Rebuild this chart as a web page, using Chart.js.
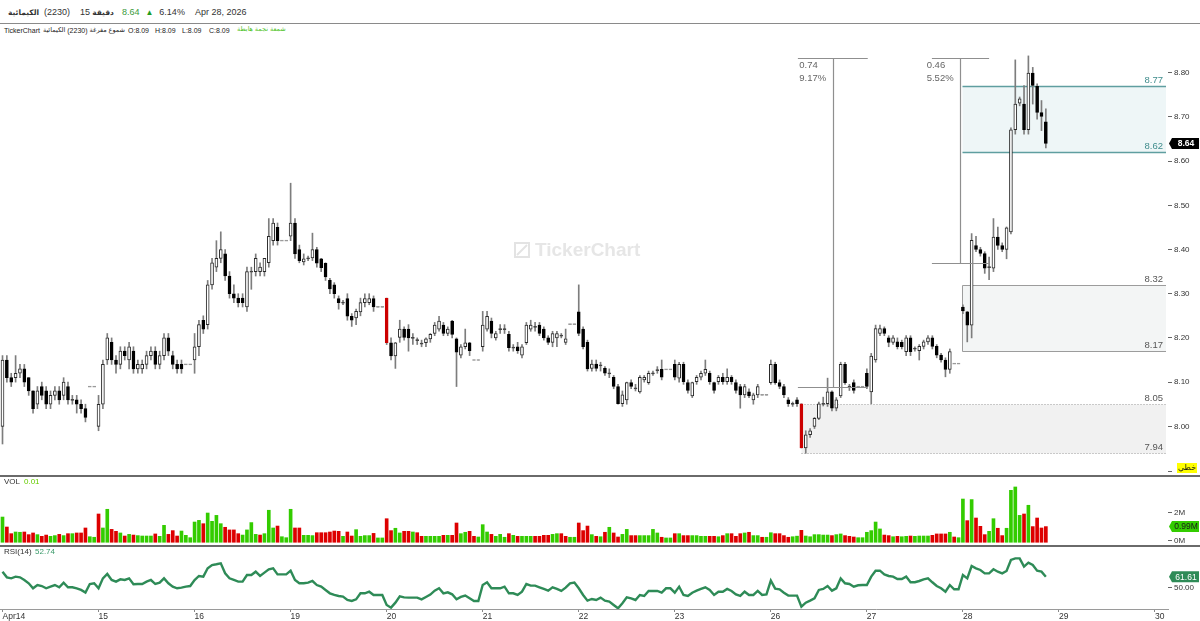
<!DOCTYPE html>
<html><head><meta charset="utf-8">
<script src="https://cdn.jsdelivr.net/npm/chart.js@4.4.1/dist/chart.umd.min.js"></script>
<style>
html,body{margin:0;padding:0;background:#fff}
body{width:1200px;height:621px;overflow:hidden;position:relative;font-family:"Liberation Sans",Arial,"DejaVu Sans",sans-serif;color:#333}
.pane{position:absolute;left:0;width:1200px}
.t{position:absolute;white-space:nowrap;line-height:1}
.row{position:absolute;display:flex;align-items:center;white-space:nowrap;line-height:1}
.row span{display:block}
.sep{position:absolute;left:0;width:1200px;z-index:5}
</style></head><body>
<div class="row" style="left:8px;top:7px;height:11px;font-size:9px">
  <span dir="rtl" style="font-weight:bold;font-size:7.5px">الكيمائية</span>
  <span style="margin-left:5px">(2230)</span>
  <span style="margin-left:10px">15</span>
  <span dir="rtl" style="margin-left:2px;font-weight:bold;font-size:7.5px">دقيقة</span>
  <span style="margin-left:8px;color:#3a9a3a">8.64</span>
  <span style="margin-left:6px;color:#1f9e1f;font-size:8px">▲</span>
  <span style="margin-left:6px">6.14%</span>
  <span style="margin-left:10px">Apr 28, 2026</span>
</div>
<div class="sep" style="top:23px;height:1px;background:#8a8a8a"></div>
<div class="row" style="left:4px;top:26px;height:8px;font-size:7px;color:#222">
  <span>TickerChart</span>
  <span dir="rtl" style="margin-left:3px;font-size:6.5px">الكيمائية</span>
  <span style="margin-left:2px">(2230)</span>
  <span dir="rtl" style="margin-left:2px;font-size:6.5px">شموع مفرغة</span>
</div>
<div class="t" style="left:128px;top:27px;font-size:7px;color:#222">O:8.09</div>
<div class="t" style="left:155px;top:27px;font-size:7px;color:#222">H:8.09</div>
<div class="t" style="left:182px;top:27px;font-size:7px;color:#222">L:8.09</div>
<div class="t" style="left:209px;top:27px;font-size:7px;color:#222">C:8.09</div>
<div class="t" style="left:237px;top:26px;font-size:6.5px;color:#4cc21c" dir="rtl">شمعة نجمة هابطة</div>

<div class="pane" style="top:38px;height:438px"><canvas id="cPrice"></canvas></div>
<div class="sep" style="top:475px;height:2px;background:#6a6a6a"></div>
<div class="pane" style="top:477px;height:69px"><canvas id="cVol"></canvas></div>
<div class="sep" style="top:545px;height:2px;background:#6a6a6a"></div>
<div class="pane" style="top:547px;height:74px"><canvas id="cRsi"></canvas></div>

<div class="t" style="left:4px;top:478px;font-size:8px;color:#333;z-index:6">VOL</div>
<div class="t" style="left:24px;top:478px;font-size:8px;color:#66cc00;z-index:6">0.01</div>
<div class="t" style="left:4px;top:548px;font-size:8px;color:#333;z-index:6">RSI(14)</div>
<div class="t" style="left:35px;top:548px;font-size:8px;color:#3a9a6a;z-index:6">52.74</div>

<script>
// ---------- DATA ----------
const dayLabels = ['Apr14','15','16','19','20','21','22','23','26','27','28','29','30'];
const dayStart  = [0,22,44,66,88,110,132,154,176,198,220,242,264];
const priceTicks = [8.0,8.1,8.2,8.3,8.4,8.5,8.6,8.7,8.8];
const volTicks = [0,2];
const rsiTicks = [50];

const opens = [
8.00,8.15,8.11,8.11,8.12,8.13,8.11,8.08,8.05,8.09,8.08,8.05,8.07,8.08,8.07,8.09,8.06,8.06,8.05,8.04,8.09,8.09,
8.00,8.05,8.15,8.19,8.15,8.14,8.17,8.15,8.17,8.13,8.13,8.14,8.16,8.17,8.14,8.16,8.20,8.16,8.14,8.14,8.14,8.14,
8.15,8.18,8.24,8.23,8.32,8.36,8.38,8.39,8.34,8.30,8.29,8.29,8.27,8.35,8.35,8.35,8.35,8.37,8.42,8.45,8.42,8.42,
8.43,8.46,8.40,8.372,8.38,8.381,8.40,8.379,8.369,8.33,8.32,8.289,8.28,8.289,8.249,8.245,8.259,8.28,8.28,8.289,8.27,8.27,
8.29,8.189,8.159,8.201,8.22,8.22,8.20,8.195,8.187,8.189,8.198,8.21,8.22,8.229,8.21,8.238,8.198,8.161,8.18,8.189,8.15,8.15,
8.18,8.22,8.238,8.20,8.22,8.22,8.208,8.178,8.18,8.161,8.189,8.22,8.225,8.229,8.22,8.20,8.19,8.20,8.205,8.19,8.231,8.231,
8.259,8.22,8.19,8.131,8.141,8.138,8.131,8.12,8.111,8.09,8.051,8.06,8.099,8.086,8.078,8.105,8.099,8.12,8.127,8.129,8.129,8.129,
8.14,8.109,8.14,8.099,8.069,8.101,8.111,8.12,8.12,8.099,8.101,8.111,8.101,8.111,8.099,8.09,8.071,8.078,8.06,8.071,8.071,8.071,
8.099,8.14,8.099,8.09,8.06,8.051,8.06,8.051,7.951,7.981,8.00,8.018,8.051,8.051,8.078,8.041,8.069,8.14,8.09,8.099,8.09,8.09,
8.12,8.078,8.15,8.21,8.221,8.20,8.19,8.191,8.19,8.169,8.20,8.176,8.171,8.181,8.191,8.20,8.181,8.161,8.15,8.129,8.142,8.142,
8.27,8.259,8.229,8.409,8.40,8.391,8.36,8.358,8.428,8.409,8.40,8.44,8.671,8.731,8.729,8.671,8.799,8.769,8.71,8.689];

const highs = [
8.16,8.16,8.12,8.16,8.14,8.14,8.11,8.08,8.09,8.10,8.09,8.08,8.09,8.09,8.11,8.10,8.07,8.07,8.06,8.05,8.09,8.09,
8.07,8.15,8.21,8.20,8.16,8.18,8.18,8.19,8.18,8.15,8.15,8.17,8.18,8.18,8.17,8.21,8.21,8.17,8.15,8.15,8.14,8.14,
8.21,8.24,8.25,8.33,8.38,8.42,8.44,8.40,8.35,8.32,8.30,8.30,8.36,8.36,8.39,8.37,8.38,8.47,8.47,8.46,8.42,8.42,
8.55,8.47,8.41,8.39,8.385,8.437,8.405,8.38,8.37,8.335,8.325,8.295,8.285,8.30,8.255,8.265,8.29,8.30,8.30,8.295,8.27,8.27,
8.29,8.20,8.19,8.24,8.225,8.23,8.21,8.20,8.195,8.20,8.21,8.235,8.249,8.235,8.225,8.24,8.20,8.185,8.22,8.19,8.15,8.15,
8.26,8.26,8.245,8.215,8.23,8.23,8.215,8.185,8.19,8.185,8.235,8.24,8.235,8.235,8.225,8.205,8.215,8.215,8.21,8.22,8.231,8.231,
8.32,8.225,8.195,8.15,8.15,8.145,8.135,8.13,8.115,8.095,8.08,8.10,8.105,8.095,8.115,8.115,8.125,8.125,8.135,8.15,8.129,8.129,
8.15,8.145,8.145,8.105,8.10,8.115,8.125,8.15,8.125,8.10,8.115,8.12,8.13,8.115,8.105,8.095,8.095,8.085,8.075,8.095,8.071,8.071,
8.15,8.145,8.105,8.095,8.065,8.055,8.065,8.051,7.99,7.995,8.02,8.055,8.066,8.109,8.08,8.065,8.145,8.145,8.095,8.105,8.09,8.09,
8.13,8.165,8.229,8.229,8.225,8.205,8.205,8.20,8.195,8.205,8.205,8.18,8.185,8.195,8.205,8.205,8.185,8.165,8.155,8.175,8.142,8.142,
8.275,8.26,8.436,8.43,8.405,8.395,8.383,8.47,8.451,8.415,8.451,8.675,8.829,8.745,8.771,8.838,8.812,8.775,8.737,8.718];

const lows = [
7.96,8.10,8.09,8.10,8.11,8.09,8.07,8.03,8.04,8.06,8.04,8.04,8.06,8.05,8.06,8.05,8.05,8.03,8.03,8.01,8.09,8.09,
7.99,8.04,8.14,8.14,8.12,8.13,8.15,8.13,8.12,8.12,8.12,8.13,8.15,8.13,8.13,8.15,8.16,8.13,8.12,8.12,8.14,8.14,
8.12,8.16,8.21,8.22,8.31,8.35,8.37,8.33,8.29,8.28,8.27,8.27,8.26,8.31,8.34,8.34,8.34,8.36,8.41,8.41,8.42,8.42,
8.42,8.38,8.37,8.365,8.375,8.375,8.36,8.35,8.33,8.30,8.29,8.265,8.275,8.24,8.226,8.23,8.25,8.27,8.275,8.26,8.27,8.27,
8.185,8.15,8.131,8.19,8.195,8.17,8.185,8.185,8.18,8.18,8.19,8.205,8.215,8.205,8.205,8.20,8.09,8.155,8.175,8.16,8.15,8.15,
8.17,8.215,8.20,8.195,8.21,8.21,8.17,8.17,8.165,8.155,8.185,8.215,8.215,8.205,8.195,8.185,8.18,8.18,8.20,8.185,8.231,8.231,
8.205,8.175,8.125,8.125,8.125,8.125,8.115,8.11,8.085,8.05,8.045,8.05,8.085,8.08,8.075,8.10,8.095,8.115,8.12,8.105,8.129,8.129,
8.105,8.10,8.095,8.075,8.065,8.095,8.105,8.115,8.095,8.075,8.095,8.095,8.095,8.095,8.075,8.041,8.065,8.065,8.05,8.065,8.071,8.071,
8.095,8.095,8.085,8.065,8.045,8.045,8.045,7.951,7.939,7.975,7.995,8.015,8.046,8.045,8.035,8.035,8.065,8.095,8.081,8.075,8.09,8.09,
8.085,8.051,8.145,8.205,8.205,8.18,8.185,8.175,8.175,8.16,8.16,8.17,8.15,8.175,8.185,8.175,8.155,8.145,8.112,8.12,8.142,8.142,
8.255,8.191,8.20,8.395,8.385,8.346,8.332,8.35,8.40,8.395,8.379,8.435,8.661,8.725,8.661,8.661,8.729,8.695,8.669,8.63];

const closes = [
8.15,8.11,8.10,8.12,8.13,8.10,8.08,8.04,8.08,8.07,8.05,8.07,8.08,8.06,8.10,8.06,8.06,8.05,8.04,8.02,8.09,8.09,
8.05,8.14,8.20,8.15,8.14,8.17,8.16,8.18,8.13,8.14,8.14,8.16,8.17,8.14,8.16,8.20,8.17,8.14,8.13,8.13,8.14,8.14,
8.18,8.23,8.22,8.32,8.37,8.38,8.40,8.34,8.30,8.29,8.28,8.28,8.35,8.35,8.38,8.36,8.38,8.43,8.46,8.42,8.42,8.42,
8.46,8.39,8.375,8.379,8.38,8.40,8.369,8.359,8.338,8.311,8.30,8.28,8.28,8.249,8.24,8.26,8.28,8.289,8.289,8.27,8.27,8.27,
8.189,8.159,8.189,8.22,8.201,8.20,8.20,8.195,8.187,8.198,8.208,8.229,8.238,8.21,8.22,8.208,8.168,8.18,8.189,8.171,8.15,8.15,
8.229,8.249,8.21,8.21,8.22,8.22,8.178,8.178,8.171,8.18,8.229,8.229,8.225,8.21,8.20,8.19,8.21,8.21,8.205,8.198,8.231,8.231,
8.21,8.18,8.13,8.141,8.131,8.138,8.12,8.12,8.09,8.051,8.071,8.099,8.09,8.086,8.111,8.111,8.12,8.12,8.127,8.111,8.129,8.129,
8.111,8.14,8.101,8.081,8.099,8.111,8.12,8.129,8.101,8.081,8.111,8.101,8.111,8.101,8.081,8.071,8.09,8.069,8.071,8.09,8.071,8.071,
8.14,8.099,8.09,8.071,8.051,8.051,8.051,7.951,7.981,7.99,8.018,8.051,8.051,8.078,8.041,8.06,8.14,8.099,8.09,8.081,8.09,8.09,
8.09,8.159,8.221,8.221,8.21,8.19,8.20,8.18,8.18,8.20,8.169,8.176,8.181,8.191,8.20,8.181,8.161,8.15,8.129,8.169,8.142,8.142,
8.261,8.229,8.421,8.40,8.391,8.358,8.36,8.428,8.409,8.40,8.449,8.671,8.729,8.741,8.671,8.799,8.771,8.71,8.701,8.64];

// volume in millions
const volumes = [
1.68,0.96,0.48,0.6,0.58,0.6,0.41,0.53,0.41,0.29,0.38,0.29,0.34,0.43,0.34,0.48,0.48,0.53,0.53,0.89,0.26,0.22,
1.9,0.89,2.24,0.79,0.65,0.53,0.31,0.43,0.38,0.34,0.31,0.31,0.31,0.46,0.29,1.08,0.43,0.7,0.31,0.67,0.36,0.19,
1.32,1.44,1.2,1.97,1.37,1.8,1.2,0.94,0.75,0.75,0.48,0.38,0.75,1.28,0.43,0.38,0.48,2.17,0.89,1.03,0.26,0.19,
2.24,0.89,0.89,0.36,0.36,0.34,0.55,0.55,0.55,0.6,0.67,0.65,0.29,0.6,0.31,0.77,0.29,0.34,0.34,0.5,0.17,0.17,
1.56,0.7,0.87,0.53,0.65,0.65,0.6,0.55,0.29,0.29,0.29,0.29,0.29,0.36,0.36,0.36,1.25,0.48,0.58,0.65,0.29,0.24,
1.13,0.6,0.43,0.29,0.43,0.22,0.48,0.36,0.29,0.29,0.29,0.29,0.29,0.29,0.36,0.36,0.43,0.48,0.48,0.29,0.22,0.22,
1.25,0.7,1.03,0.41,0.29,0.26,0.58,0.94,0.53,0.24,0.43,0.79,0.34,0.34,0.34,0.34,0.34,0.79,0.53,0.22,0.17,0.17,
0.48,0.48,0.34,0.34,0.34,0.34,0.29,0.29,0.29,0.29,0.26,0.34,0.48,0.48,0.29,0.48,0.53,0.58,0.34,0.34,0.22,0.22,
0.55,0.48,0.48,0.34,0.22,0.26,0.3,0.72,0.31,0.26,0.41,0.41,0.38,0.38,0.34,0.41,0.46,0.34,0.29,0.24,0.19,0.19,
0.58,0.7,1.32,0.82,0.38,0.34,0.26,0.29,0.26,0.29,0.31,0.29,0.31,0.31,0.31,0.36,0.46,0.46,0.46,0.58,0.24,0.19,
2.98,1.42,2.94,1.61,1.01,0.41,0.65,1.56,0.87,0.34,0.87,3.61,3.85,1.80,1.90,2.53,0.99,1.61,0.89,0.99];

const rsi = [
67.1,60.9,59.8,61.7,60.9,58.0,54.4,48.9,52.5,51.4,48.9,50.7,52.5,50.0,55.1,50.0,50.0,48.9,47.1,44.2,53.6,54.4,
48.9,59.8,64.6,58.0,56.2,58.7,58.0,59.8,53.3,53.6,53.6,56.2,58.0,53.6,55.1,59.8,54.4,50.7,48.9,49.6,50.7,51.4,
58.0,62.4,61.7,70.8,74.4,75.2,76.3,65.3,59.8,58.0,56.2,56.2,63.5,63.5,67.1,62.4,66.1,69.7,70.8,64.2,64.2,64.2,
68.2,58.0,54.4,54.4,55.1,56.9,52.5,50.7,47.1,43.4,41.6,40.5,39.8,36.1,35.0,36.8,43.4,43.4,45.2,41.6,41.6,41.6,
30.6,27.7,33.2,40.0,39.0,38.7,38.7,38.7,36.8,39.4,42.0,46.3,48.9,43.4,44.5,42.3,36.8,39.4,40.9,37.9,35.0,35.0,
52.5,55.5,48.9,48.9,48.9,50.7,43.4,43.4,41.6,45.2,53.6,51.8,51.8,50.0,48.2,46.3,50.0,48.2,46.0,49.6,54.4,55.1,
48.9,41.6,35.4,37.2,36.1,38.7,35.4,34.3,30.6,27.0,32.5,39.0,37.9,36.1,41.6,40.5,46.0,46.0,46.0,44.1,48.9,48.9,
44.1,50.7,41.6,40.5,44.1,46.3,48.2,50.0,47.1,41.6,45.2,45.2,48.2,46.0,42.3,40.5,45.2,41.6,41.6,46.0,41.6,42.3,
57.3,48.5,47.8,44.1,40.9,40.9,40.9,28.8,33.2,35.4,37.9,47.1,48.2,51.4,46.3,48.9,59.8,54.4,53.6,50.7,52.2,52.5,
52.5,61.7,68.2,68.2,64.2,62.4,61.7,59.1,59.1,61.7,55.5,55.5,56.9,58.7,59.8,55.5,51.4,48.9,45.2,52.5,47.8,47.8,
63.5,59.8,73.3,70.8,69.0,65.3,65.3,69.7,67.1,65.3,67.9,79.9,81.7,81.7,72.6,77.0,74.4,68.2,67.1,61.61];

// candle-pattern bars (highlighted red)
const patternBars = [88,183];
// drawn zones: [top, bottom] and starting bar
const zoneLevels = [[8.05,7.94],[8.32,8.17],[8.77,8.62]];
const zoneStart  = [183,219.9,219.9];
// measure tools
const measureTop    = [8.834,8.834];
const measureBottom = [8.09,8.369];
const measureText   = [['0.74','9.17%'],['0.46','5.52%']];

// ---------- RENDER ----------
const FONT = '"Liberation Sans", Arial, sans-serif';
Chart.defaults.font.family = FONT;
const X_MIN = -0.573, X_MAX = 266.98;
const last = closes.length - 1;

const wickData = closes.map((c,i)=>({x:i, y:[lows[i], highs[i]]}));
const bodyData = closes.map((c,i)=>{
  const o = opens[i];
  if (Math.abs(o-c) < 0.002) return {x:i, y:[o-0.0012, o+0.0012]};
  return {x:i, y:[o, c]};
});
const isFlat = i => Math.abs(opens[i]-closes[i]) < 0.002;
const bodyFill = closes.map((c,i)=> patternBars.includes(i) ? '#cc0000' : isFlat(i) ? (highs[i]===lows[i] ? '#9a9a9a' : '#444') : (c>opens[i] ? '#ffffff' : '#000000'));
const bodyStroke = closes.map((c,i)=> patternBars.includes(i) ? '#cc0000' : isFlat(i) ? (highs[i]===lows[i] ? '#9a9a9a' : '#444') : (c>opens[i] ? '#2a2a2a' : '#000000'));

function rightAxis(min, max, ticks, fmt){
  return {
    type:'linear', position:'right', min, max,
    afterBuildTicks: s => { s.ticks = ticks.map(v=>({value:v})); },
    afterFit: s => { s.width = 32; s.paddingTop = 0; s.paddingBottom = 0; },
    grid:{drawOnChartArea:false, drawTicks:true, tickLength:4, color:'#666'},
    border:{display:false},
    ticks:{padding:2, color:'#333', font:{family:FONT, size:8}, callback: fmt, autoSkip:false}
  };
}
const hiddenX = {type:'linear', min:X_MIN, max:X_MAX, offset:false, display:false};
const base = {animation:false, responsive:true, maintainAspectRatio:false, devicePixelRatio:1, events:[],
  plugins:{legend:{display:false}, tooltip:{enabled:false}}};

function tag(ctx, yv, text, bg, fg, bold){
  const x0 = 1172, x1 = 1199, h = 11;
  ctx.save();
  ctx.fillStyle = bg;
  ctx.beginPath();
  ctx.moveTo(x0-3, yv); ctx.lineTo(x0, yv-h/2); ctx.lineTo(x1, yv-h/2); ctx.lineTo(x1, yv+h/2); ctx.lineTo(x0, yv+h/2); ctx.closePath();
  ctx.fill();
  ctx.fillStyle = fg; ctx.font = (bold?'bold ':'') + '8.5px ' + FONT;
  ctx.textAlign = 'center'; ctx.textBaseline = 'middle';
  ctx.fillText(text, (x0+x1)/2+0.5, yv+0.5);
  ctx.restore();
}

const zoneStyle = [
  {fill:'#f1f1f1', stroke:'#9a9a9a', lw:1, dash:[1,2], left:false, text:'#555'},
  {fill:'#f3f5f5', stroke:'#9c9c9c', lw:1, dash:[], left:true, text:'#555'},
  {fill:'#eef6f7', stroke:'#5f9ea0', lw:1.5, dash:[], left:false, text:'#3f8c8c'}
];

const pricePlugin = {
  id:'priceDeco',
  beforeDatasetsDraw(chart){
    const {ctx, chartArea:a, scales:{x, y}} = chart;
    ctx.save();
    // watermark
    ctx.strokeStyle = '#e3e3e3'; ctx.lineWidth = 2;
    ctx.strokeRect(515, 205, 14, 14);
    ctx.beginPath(); ctx.moveTo(517, 217); ctx.lineTo(527, 207); ctx.stroke();
    ctx.fillStyle = '#e6e6e6'; ctx.font = 'bold 19px ' + FONT;
    ctx.textAlign = 'left'; ctx.textBaseline = 'middle';
    ctx.fillText('TickerChart', 535, 213);
    // zones
    zoneLevels.forEach((lv,k)=>{
      const st = zoneStyle[k];
      const x0 = Math.round(x.getPixelForValue(zoneStart[k])) + 0.5;
      const x1 = a.right - 2;
      const yt = Math.round(y.getPixelForValue(lv[0])) + 0.5;
      const yb = Math.round(y.getPixelForValue(lv[1])) + 0.5;
      ctx.fillStyle = st.fill; ctx.fillRect(x0, yt, x1-x0, yb-yt);
      ctx.strokeStyle = st.stroke; ctx.lineWidth = st.lw; ctx.setLineDash(st.dash);
      ctx.beginPath();
      ctx.moveTo(x0, yt); ctx.lineTo(x1, yt);
      ctx.moveTo(x0, yb); ctx.lineTo(x1, yb);
      if (st.left){ ctx.moveTo(x0, yt); ctx.lineTo(x0, yb); }
      ctx.stroke(); ctx.setLineDash([]);
      ctx.fillStyle = st.text; ctx.font = '9.5px ' + FONT;
      ctx.textAlign = 'right'; ctx.textBaseline = 'alphabetic';
      ctx.fillText(lv[0].toFixed(2), x1-3, yt-4);
      ctx.fillText(lv[1].toFixed(2), x1-3, yb-4);
    });
    ctx.restore();
  },
  afterDatasetsDraw(chart){
    const {ctx, scales:{x, y}} = chart;
    ctx.save();
    const spans = [[182.2,198.2,190.2,182.5],[212.9,226.0,219.3,211.7]];
    measureTop.forEach((tp,k)=>{
      const [f,t,v,lab] = spans[k];
      const xl = x.getPixelForValue(f), xr = x.getPixelForValue(t), xv = Math.round(x.getPixelForValue(v))+0.5;
      const yt = Math.round(y.getPixelForValue(tp))+0.5, yb = Math.round(y.getPixelForValue(measureBottom[k]))+0.5;
      ctx.strokeStyle = '#8f8f8f'; ctx.lineWidth = 1.2;
      ctx.beginPath();
      ctx.moveTo(xl, yt); ctx.lineTo(xr, yt);
      ctx.moveTo(xv, yt); ctx.lineTo(xv, yb);
      ctx.moveTo(xl, yb); ctx.lineTo(xr, yb);
      ctx.stroke();
      ctx.fillStyle = '#666'; ctx.font = '9.5px ' + FONT; ctx.textAlign = 'left'; ctx.textBaseline = 'middle';
      const lx = x.getPixelForValue(lab);
      ctx.fillText(measureText[k][0], lx, yt + 7);
      ctx.fillText(measureText[k][1], lx, yt + 20);
    });
    // 7.90 tick + scale-type box
    ctx.strokeStyle = '#666'; ctx.lineWidth = 1;
    const y79 = Math.round(y.getPixelForValue(7.9))+0.5;
    ctx.beginPath(); ctx.moveTo(1168, y79); ctx.lineTo(1172, y79); ctx.stroke();
    ctx.fillStyle = '#ffff00'; ctx.fillRect(1177, 425, 20, 10);
    ctx.fillStyle = '#111'; ctx.font = '8px "DejaVu Sans", sans-serif'; ctx.textAlign = 'center'; ctx.textBaseline = 'middle';
    ctx.fillText('خطي', 1187, 430);
    ctx.restore();
    tag(ctx, y.getPixelForValue(closes[last]), closes[last].toFixed(2), '#000', '#fff', true);
  }
};

new Chart(document.getElementById('cPrice'), {
  type:'bar',
  data:{datasets:[
    {data:wickData, backgroundColor:'#7d7d7d', barThickness:1, grouped:false, order:2},
    {data:bodyData, backgroundColor:bodyFill, borderColor:bodyStroke, borderWidth:1, borderSkipped:false, barThickness:3, grouped:false, order:1}
  ]},
  options:{...base, layout:{padding:0},
    scales:{x:hiddenX, y:rightAxis(7.8876, 8.8785, priceTicks, v=>Number(v).toFixed(2))}},
  plugins:[pricePlugin]
});

const volColors = volumes.map((v,i)=> (i===0 || closes[i] >= closes[i-1]) ? '#33cc00' : '#dd0000');
new Chart(document.getElementById('cVol'), {
  type:'bar',
  data:{datasets:[{data:volumes.map((v,i)=>({x:i, y:[-0.14, v]})), backgroundColor:volColors, barThickness:3, grouped:false}]},
  options:{...base, layout:{padding:0},
    scales:{x:hiddenX, y:rightAxis(-0.41, 4.57, volTicks, v=>v+'M')}},
  plugins:[{id:'volTag', afterDatasetsDraw(chart){
    tag(chart.ctx, chart.scales.y.getPixelForValue(volumes[last]), volumes[last].toFixed(2)+'M', '#33cc00', '#1a1a1a', false);
  }}]
});

new Chart(document.getElementById('cRsi'), {
  type:'line',
  data:{datasets:[{data:rsi.map((r,i)=>({x:i, y:r})), borderColor:'#2e8b57', borderWidth:2.4, pointRadius:0, tension:0, fill:false}]},
  options:{...base, layout:{padding:{top:1}},
    scales:{
      x:{type:'linear', min:X_MIN, max:X_MAX, offset:false, position:'bottom',
        afterBuildTicks: s => { s.ticks = dayStart.map(v=>({value:v})); },
        afterFit: s => { s.height = 12; s.paddingLeft = 0; s.paddingRight = 0; },
        grid:{drawOnChartArea:false, drawTicks:true, tickLength:3, color:'#888'},
        border:{display:true, color:'#9a9a9a'},
        ticks:{align:'start', padding:0, maxRotation:0, autoSkip:false, color:'#333', font:{family:FONT, size:8.5},
          callback:(v,idx)=>dayLabels[idx]}},
      y:rightAxis(26.23, 93.04, rsiTicks, v=>Number(v).toFixed(2))
    }},
  plugins:[{id:'rsiTag', afterDatasetsDraw(chart){
    tag(chart.ctx, chart.scales.y.getPixelForValue(rsi[last]), rsi[last].toFixed(2), '#2e8b57', '#fff', false);
  }}]
});
</script>
</body></html>
